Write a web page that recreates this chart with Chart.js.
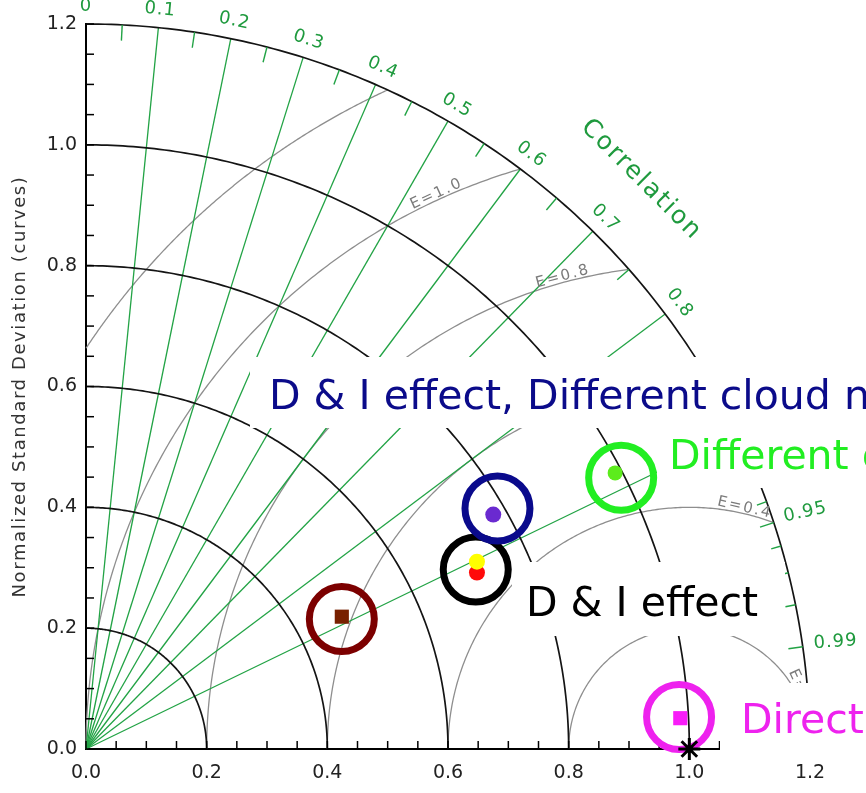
<!DOCTYPE html>
<html>
<head>
<meta charset="utf-8">
<title>Taylor diagram</title>
<script src="https://cdn.jsdelivr.net/npm/chart.js@4.4.1/dist/chart.umd.min.js"></script>
<style>
html,body{margin:0;padding:0;background:#ffffff;overflow:hidden;}
#box{position:relative;width:866px;height:793px;}
canvas{display:block;}
</style>
</head>
<body>
<div id="box"><canvas id="chart" width="866" height="793"></canvas></div>
<script>
// ---------------- data ----------------
const pointNames  = ['Case A', 'D & I effect (red)', 'D & I effect (yellow)', 'D & I effect, different cloud', 'Different cloud', 'Direct'];
const pointX      = [0.424, 0.648, 0.648, 0.675, 0.877, 0.985];
const pointY      = [0.219, 0.292, 0.310, 0.388, 0.457, 0.051];
const ringX       = [0.424, 0.646, 0.682, 0.887, 0.983];
const ringY       = [0.215, 0.297, 0.398, 0.449, 0.053];
const refX        = [1.0];
const refY        = [0.0];
const axisTickValues  = [0.0, 0.2, 0.4, 0.6, 0.8, 1.0, 1.2];
const stdLevels       = [0.2, 0.4, 0.6, 0.8, 1.0, 1.2];
const rmsLevels       = [0.2, 0.4, 0.6, 0.8, 1.0, 1.2];
const rmsLabelLevels  = [1.0, 0.8, 0.6, 0.4, 0.2];
const corrRays        = [0.1, 0.2, 0.3, 0.4, 0.5, 0.6, 0.7, 0.8, 0.9];
const corrLabelValues = [0, 0.1, 0.2, 0.3, 0.4, 0.5, 0.6, 0.7, 0.8, 0.9];
const corrExtraLabels = [0.95, 0.99];
const corrMinor       = [0.05, 0.15, 0.25, 0.35, 0.45, 0.55, 0.65, 0.75, 0.85];
const corrFine        = [0.91, 0.92, 0.93, 0.94, 0.96, 0.97, 0.98];
const annotationTexts = ['D & I effect, Different cloud n', 'Different c', 'D & I effect', 'Direct'];

// ---------------- styles ----------------
const pointColors = ['#782000', '#ff0a0a', '#ffff00', '#6a2ad0', '#5cec1c', '#f81cf8'];
const pointShapes = ['rect', 'circle', 'circle', 'circle', 'circle', 'rect'];
const pointSizes  = [10, 8, 8, 8, 7.5, 10];
const ringColors  = ['#7c0000', '#000000', '#0a0a8c', '#22ee22', '#ee22ee'];
const GREEN = '#22a345', GREEN_TXT = '#1f9a3e', GRAY = '#8e8e8e', BLACK = '#141414';
const R_OUT = 1.2;

const rmsLabelPhi = {1.0: 114.5, 0.8: 105, 0.6: 95, 0.4: 77, 0.2: 25};
const annoLayout = [
  {color:'#0b0b8a', x:269, y:409, box:[250,357,866,428]},
  {color:'#22ee22', x:669, y:469, box:[657,428,866,488]},
  {color:'#000000', x:526, y:616, box:[512,562,785,636]},
  {color:'#ee22ee', x:741, y:733, box:[720,683,866,755]}
];

function polar(r, R){ const th = Math.acos(R); return [r*Math.cos(th), r*Math.sin(th)]; }

const taylorPlugin = {
  id: 'taylor',
  beforeDatasetsDraw(chart){
    const ctx = chart.ctx, xs = chart.scales.x, ys = chart.scales.y;
    const px = v => xs.getPixelForValue(v), py = v => ys.getPixelForValue(v);
    ctx.save();
    ctx.lineJoin = 'round';

    // RMS difference arcs (centred on reference point)
    ctx.strokeStyle = GRAY; ctx.lineWidth = 1.3;
    for (const e of rmsLevels){
      const cmin = Math.max(-1, Math.min(1, (R_OUT*R_OUT - 1 - e*e)/(2*e)));
      const phiMin = Math.acos(cmin);
      const phiMax = Math.acos(Math.max(-1, -1/e));
      ctx.beginPath();
      const n = 200;
      for (let i=0;i<=n;i++){
        const p = phiMin + (phiMax-phiMin)*i/n;
        const x = 1 + e*Math.cos(p), y = e*Math.sin(p);
        if (i===0) ctx.moveTo(px(x), py(y)); else ctx.lineTo(px(x), py(y));
      }
      ctx.stroke();
    }

    // correlation rays
    ctx.strokeStyle = GREEN; ctx.lineWidth = 1.3;
    for (const R of corrRays){
      const [x,y] = polar(R_OUT, R);
      ctx.beginPath(); ctx.moveTo(px(0), py(0)); ctx.lineTo(px(x), py(y)); ctx.stroke();
    }

    // standard deviation arcs
    ctx.strokeStyle = BLACK; ctx.lineWidth = 1.7;
    for (const r of stdLevels){
      ctx.beginPath();
      const n = 180;
      for (let i=0;i<=n;i++){
        const t = (Math.PI/2)*i/n;
        const x = r*Math.cos(t), y = r*Math.sin(t);
        if (i===0) ctx.moveTo(px(x), py(y)); else ctx.lineTo(px(x), py(y));
      }
      ctx.stroke();
    }

    // ticks on the outer arc (pointing inward)
    ctx.strokeStyle = GREEN; ctx.lineWidth = 1.4;
    const tick = (R, len) => {
      const [x1,y1] = polar(R_OUT, R), [x2,y2] = polar(R_OUT - len, R);
      ctx.beginPath(); ctx.moveTo(px(x1), py(y1)); ctx.lineTo(px(x2), py(y2)); ctx.stroke();
    };
    corrMinor.forEach(R => tick(R, 0.026));
    corrFine.forEach(R => tick(R, 0.017));
    corrExtraLabels.forEach(R => tick(R, 0.024));

    // axis ticks (inward)
    ctx.strokeStyle = '#000'; ctx.lineWidth = 1.5;
    for (let i=0;i<=24;i++){
      const v = i*0.05;
      ctx.beginPath(); ctx.moveTo(px(0), py(v)); ctx.lineTo(px(0)+8, py(v)); ctx.stroke();
      ctx.beginPath(); ctx.moveTo(px(v), py(0)); ctx.lineTo(px(v), py(0)-8); ctx.stroke();
    }

    // correlation labels
    ctx.fillStyle = GREEN_TXT;
    ctx.font = '18px "DejaVu Sans"';
    ctx.letterSpacing = '1px';
    ctx.textAlign = 'center'; ctx.textBaseline = 'middle';
    corrLabelValues.forEach(R => {
      const [x,y] = polar(1.23, R);
      const th = Math.acos(R);
      ctx.save(); ctx.translate(px(x), py(y)); ctx.rotate(Math.PI/2 - th);
      ctx.fillText(R === 0 ? '0' : R.toString(), 0, 0); ctx.restore();
    });
    const extraRot = {0.95: -12, 0.99: -4};
    corrExtraLabels.forEach(R => {
      const [x,y] = polar(1.255, R);
      ctx.save(); ctx.translate(px(x), py(y)); ctx.rotate(extraRot[R]*Math.PI/180);
      ctx.fillText(R.toString(), 0, 0); ctx.restore();
    });
    // "Correlation" title
    ctx.font = '25px "DejaVu Sans"'; ctx.letterSpacing = '2px';
    {
      const [x,y] = polar(1.317, Math.cos(45.67*Math.PI/180));
      ctx.save(); ctx.translate(px(x), py(y)); ctx.rotate(45*Math.PI/180);
      ctx.fillText('Correlation', 0, 0); ctx.restore();
    }

    // RMS labels
    ctx.fillStyle = '#7a7a7a';
    ctx.font = '15px "DejaVu Sans"'; ctx.letterSpacing = '2px';
    ctx.textBaseline = 'alphabetic';
    rmsLabelLevels.forEach(e => {
      const p = rmsLabelPhi[e]*Math.PI/180;
      const x = 1 + e*Math.cos(p), y = e*Math.sin(p);
      const rot = Math.atan2(Math.cos(p), Math.sin(p));
      ctx.save(); ctx.translate(px(x), py(y)); ctx.rotate(rot);
      ctx.fillText('E=' + e.toFixed(1), 0, -2); ctx.restore();
    });

    // y axis title
    ctx.fillStyle = '#333';
    ctx.font = '18px "DejaVu Sans"'; ctx.letterSpacing = '1.6px';
    ctx.textAlign = 'center'; ctx.textBaseline = 'alphabetic';
    ctx.save(); ctx.translate(25, (py(0)+py(1.2))/2); ctx.rotate(-Math.PI/2);
    ctx.fillText('Normalized Standard Deviation (curves)', 0, 0); ctx.restore();

    // annotation boxes & texts
    ctx.letterSpacing = '0px';
    ctx.font = '41px "DejaVu Sans"';
    ctx.textAlign = 'left'; ctx.textBaseline = 'alphabetic';
    annoLayout.forEach((a, i) => {
      ctx.fillStyle = '#ffffff';
      ctx.fillRect(a.box[0], a.box[1], a.box[2]-a.box[0], a.box[3]-a.box[1]);
      ctx.fillStyle = a.color;
      ctx.fillText(annotationTexts[i], a.x, a.y);
    });
    ctx.restore();
  }
};

const pointData = pointX.map((x,i) => ({x, y: pointY[i]}));
const ringData  = ringX.map((x,i) => ({x, y: ringY[i]}));
const refData   = refX.map((x,i) => ({x, y: refY[i]}));

new Chart(document.getElementById('chart'), {
  type: 'scatter',
  data: {
    datasets: [
      { label: 'Experiments', data: pointData, pointStyle: pointShapes, pointRadius: pointSizes,
        pointBackgroundColor: pointColors, pointBorderColor: pointColors, pointBorderWidth: 0, clip: false, order: 2 },
      { label: 'Highlights', data: ringData, pointStyle: 'circle', pointRadius: 32.5,
        pointBackgroundColor: 'rgba(0,0,0,0)', pointBorderColor: ringColors, pointBorderWidth: 7, clip: false, order: 1 },
      { label: 'Reference', data: refData, pointStyle: 'star', pointRadius: 11,
        pointBorderColor: '#000', pointBackgroundColor: '#000', pointBorderWidth: 3, clip: false, order: 0 }
    ]
  },
  options: {
    responsive: false, animation: false, devicePixelRatio: 1, events: [],
    layout: { autoPadding: false, padding: { left: 0, right: 56, top: 24, bottom: 0 } },
    plugins: { legend: { display: false }, tooltip: { enabled: false }, title: { display: false } },
    scales: {
      x: { type: 'linear', min: 0, max: 1.2, position: 'bottom',
           grid: { display: false, drawTicks: false },
           border: { display: true, color: '#000', width: 2 },
           afterBuildTicks: s => { s.ticks = axisTickValues.map(v => ({value: v})); },
           ticks: { callback: v => Number(v).toFixed(1), font: { family: 'DejaVu Sans', size: 19 }, color: '#222',
                    padding: 13, maxRotation: 0, autoSkip: false },
           afterFit: s => { s.height = 44; } },
      y: { type: 'linear', min: 0, max: 1.2, position: 'left',
           grid: { display: false, drawTicks: false },
           border: { display: true, color: '#000', width: 2 },
           afterBuildTicks: s => { s.ticks = axisTickValues.map(v => ({value: v})); },
           ticks: { callback: v => Number(v).toFixed(1), font: { family: 'DejaVu Sans', size: 19 }, color: '#222',
                    padding: 9, autoSkip: false },
           afterFit: s => { s.width = 86; } }
    }
  },
  plugins: [taylorPlugin]
});
</script>
</body>
</html>
